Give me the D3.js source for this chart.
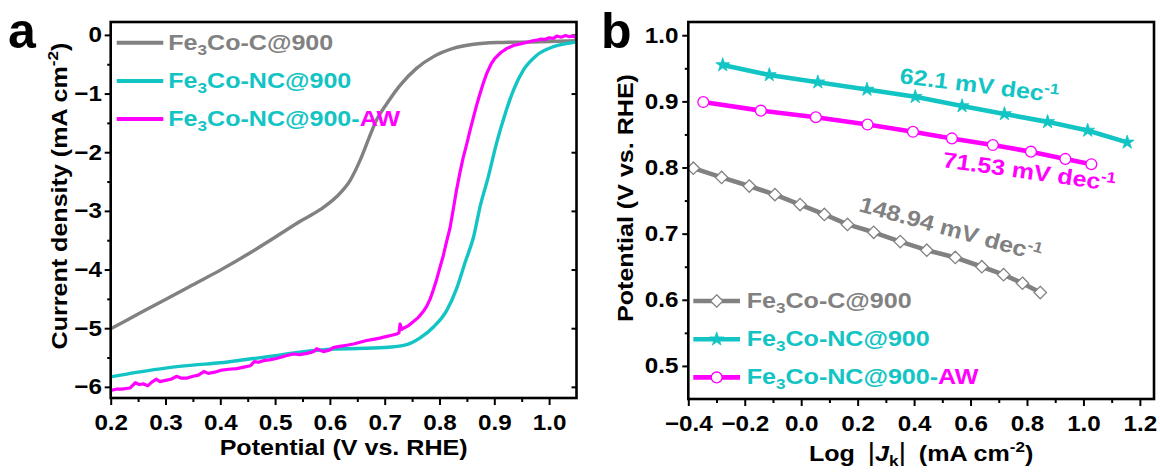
<!DOCTYPE html>
<html>
<head>
<meta charset="utf-8">
<script src="https://cdn.jsdelivr.net/npm/d3@7"></script>
<style>
  html, body { margin: 0; padding: 0; background: #fff; }
  svg { display: block; }
  text { font-family: "Liberation Sans", Arial, sans-serif; font-weight: bold; }
</style>
</head>
<body>
<svg id="chart" width="1160" height="472"></svg>
<script>
// ---------- Panel a: LSV polarization curves ----------
const lsvNames = ["Fe3Co-C@900", "Fe3Co-NC@900", "Fe3Co-NC@900-AW"];

const grayPotential = [0.20, 0.25, 0.30, 0.35, 0.40, 0.45, 0.50, 0.545, 0.582, 0.612, 0.637, 0.655, 0.670, 0.685, 0.704, 0.728, 0.758, 0.789, 0.825, 0.862, 0.904, 0.965, 1.05];
const grayCurrent   = [-5.01, -4.76, -4.51, -4.26, -4.01, -3.74, -3.45, -3.18, -2.98, -2.76, -2.48, -2.14, -1.79, -1.45, -1.17, -0.86, -0.57, -0.37, -0.23, -0.16, -0.13, -0.12, -0.10];

const cyanPotential = [0.20, 0.25, 0.30, 0.35, 0.40, 0.45, 0.50, 0.527, 0.60, 0.70, 0.74, 0.764, 0.789, 0.813, 0.831, 0.847, 0.862, 0.874, 0.889, 0.904, 0.920, 0.935, 0.953, 0.977, 1.008, 1.037, 1.05];
const cyanCurrent   = [-5.83, -5.75, -5.68, -5.63, -5.59, -5.53, -5.47, -5.43, -5.36, -5.33, -5.28, -5.17, -4.98, -4.70, -4.33, -3.87, -3.45, -2.93, -2.42, -1.85, -1.34, -0.94, -0.60, -0.35, -0.20, -0.14, -0.12];

const magentaPotential = [0.200, 0.210, 0.220, 0.235, 0.245, 0.252, 0.260, 0.268, 0.275, 0.283, 0.290, 0.300, 0.310, 0.320, 0.328, 0.340, 0.350, 0.360, 0.370, 0.378, 0.390, 0.400, 0.415, 0.430, 0.445, 0.455, 0.462, 0.470, 0.480, 0.490, 0.500, 0.509, 0.520, 0.533, 0.545, 0.558, 0.570, 0.576, 0.588, 0.600, 0.606, 0.618, 0.631, 0.643, 0.655, 0.667, 0.679, 0.691, 0.704, 0.713, 0.722, 0.726, 0.728, 0.731, 0.734, 0.743, 0.752, 0.761, 0.770, 0.777, 0.783, 0.789, 0.795, 0.801, 0.807, 0.813, 0.819, 0.825, 0.831, 0.837, 0.843, 0.850, 0.856, 0.862, 0.868, 0.874, 0.880, 0.886, 0.894, 0.901, 0.912, 0.923, 0.935, 0.945, 0.953, 0.962, 0.970, 0.978, 0.985, 0.992, 1.000, 1.008, 1.014, 1.022, 1.030, 1.037, 1.044, 1.050];
const magentaCurrent   = [-6.06, -6.04, -6.04, -6.02, -5.93, -5.96, -5.95, -5.98, -5.92, -5.87, -5.91, -5.89, -5.87, -5.82, -5.85, -5.85, -5.82, -5.80, -5.74, -5.77, -5.75, -5.72, -5.70, -5.69, -5.66, -5.64, -5.57, -5.58, -5.55, -5.54, -5.52, -5.50, -5.47, -5.44, -5.45, -5.43, -5.40, -5.35, -5.40, -5.37, -5.33, -5.31, -5.29, -5.27, -5.24, -5.21, -5.19, -5.17, -5.14, -5.12, -5.10, -5.08, -4.93, -5.02, -5.00, -4.96, -4.89, -4.82, -4.72, -4.62, -4.50, -4.34, -4.16, -3.96, -3.76, -3.52, -3.30, -2.98, -2.65, -2.36, -2.10, -1.85, -1.62, -1.40, -1.19, -1.00, -0.82, -0.66, -0.50, -0.40, -0.30, -0.23, -0.18, -0.16, -0.14, -0.12, -0.10, -0.09, -0.07, -0.08, -0.05, -0.06, -0.02, -0.04, -0.01, -0.03, -0.02, -0.05];

const lsvXTicks = [0.2, 0.3, 0.4, 0.5, 0.6, 0.7, 0.8, 0.9, 1.0];
const lsvXMinor = [0.25, 0.35, 0.45, 0.55, 0.65, 0.75, 0.85, 0.95];
const lsvYTicks = [0, -1, -2, -3, -4, -5, -6];
const lsvYMinor = [-0.5, -1.5, -2.5, -3.5, -4.5, -5.5];

// ---------- Panel b: Tafel plots ----------
const tafelGrayLogJ = [-0.382, -0.282, -0.184, -0.093, -0.004, 0.082, 0.164, 0.257, 0.351, 0.445, 0.546, 0.640, 0.717, 0.784, 0.847];
const tafelGrayE    = [0.799, 0.785, 0.772, 0.759, 0.744, 0.729, 0.714, 0.702, 0.688, 0.675, 0.664, 0.650, 0.638, 0.625, 0.611];

const tafelCyanLogJ = [-0.278, -0.113, 0.059, 0.233, 0.404, 0.570, 0.720, 0.873, 1.015, 1.155];
const tafelCyanE    = [0.955, 0.940, 0.929, 0.918, 0.907, 0.893, 0.881, 0.869, 0.856, 0.838];

const tafelMagentaLogJ = [-0.347, -0.143, 0.052, 0.235, 0.396, 0.534, 0.679, 0.814, 0.936, 1.028];
const tafelMagentaE    = [0.899, 0.886, 0.876, 0.865, 0.854, 0.844, 0.834, 0.824, 0.813, 0.805];

const tafelXTicks = [-0.4, -0.2, 0.0, 0.2, 0.4, 0.6, 0.8, 1.0, 1.2];
const tafelXMinor = [-0.3, -0.1, 0.1, 0.3, 0.5, 0.7, 0.9, 1.1];
const tafelYTicks = [0.5, 0.6, 0.7, 0.8, 0.9, 1.0];
const tafelYMinor = [0.55, 0.65, 0.75, 0.85, 0.95];

const slopeTexts = ["62.1 mV dec", "71.53 mV dec", "148.94 mV dec"];

// ---------- styling ----------
const GRAY = "#818181", CYAN = "#13C4C4", MAGENTA = "#FF00FF";
const STRETCH = 1.14;   // wide bold lettering
const TICK_FONT = 22;

const svg = d3.select("#chart");

function zip(xs, ys) { return xs.map((x, i) => [x, ys[i]]); }

// text with sub/superscript parts, stretched along its own direction
function richText(parent, x, y, parts, opt) {
  const o = Object.assign({ anchor: "start", rotate: 0, size: 22, fill: "#000", sx: STRETCH }, opt || {});
  const t = parent.append("text")
    .attr("transform", `translate(${x},${y}) rotate(${o.rotate}) scale(${o.sx},1)`)
    .attr("text-anchor", o.anchor)
    .attr("font-size", o.size)
    .attr("fill", o.fill);
  let shift = 0;
  parts.forEach(p => {
    const target = p.dy || 0;
    const ts = t.append("tspan").text(p.t).attr("dy", target - shift);
    shift = target;
    if (p.size) ts.attr("font-size", p.size);
    if (p.fill) ts.attr("fill", p.fill);
    if (p.style) ts.attr("font-style", p.style);
    if (p.weight) ts.attr("font-weight", p.weight);
  });
  return t;
}

function styleAxis(g) {
  g.select(".domain").remove();
  g.selectAll(".tick line").attr("stroke", "#000").attr("stroke-width", 2);
  g.selectAll(".tick text")
    .attr("font-size", TICK_FONT)
    .attr("fill", "#000")
    .attr("font-family", '"Liberation Sans", Arial, sans-serif')
    .attr("font-weight", "bold")
    .attr("transform", "scale(1.1,1)");
}

function drawFrame(x0, y0, x1, y1) {
  svg.append("rect")
    .attr("x", x0).attr("y", y0)
    .attr("width", x1 - x0).attr("height", y1 - y0)
    .attr("fill", "none").attr("stroke", "#000").attr("stroke-width", 2.6);
}

// ================= Panel a =================
const A = { left: 110.7, right: 576.5, top: 22, bottom: 398 };
const xa = d3.scaleLinear().domain([0.2, 1.05]).range([A.left, A.right]);
const ya = d3.scaleLinear().domain([-6.19, 0.22]).range([A.bottom, A.top]);

svg.append("clipPath").attr("id", "clipA")
  .append("rect").attr("x", A.left).attr("y", A.top)
  .attr("width", A.right - A.left).attr("height", A.bottom - A.top);

// axes
styleAxis(svg.append("g").attr("transform", `translate(0,${A.bottom})`)
  .call(d3.axisBottom(xa).tickValues(lsvXTicks).tickFormat(d3.format(".1f")).tickSize(7).tickPadding(9)));
styleAxis(svg.append("g").attr("transform", `translate(0,${A.bottom})`)
  .call(d3.axisBottom(xa).tickValues(lsvXMinor).tickFormat("").tickSize(4)));
styleAxis(svg.append("g").attr("transform", `translate(${A.left},0)`)
  .call(d3.axisLeft(ya).tickValues(lsvYTicks).tickFormat(d3.format("d")).tickSize(6).tickPadding(2)));
styleAxis(svg.append("g").attr("transform", `translate(${A.left},0)`)
  .call(d3.axisLeft(ya).tickValues(lsvYMinor).tickFormat("").tickSize(3.5)));
styleAxis(svg.append("g").attr("transform", `translate(${A.right},0)`)
  .call(d3.axisRight(ya).tickValues(lsvYTicks).tickFormat("").tickSize(-5)));

// curves
const lineA = d3.line().x(d => xa(d[0])).y(d => ya(d[1]));
const curvesA = svg.append("g").attr("clip-path", "url(#clipA)");
curvesA.append("path").datum(zip(grayPotential, grayCurrent))
  .attr("d", lineA.curve(d3.curveMonotoneX))
  .attr("fill", "none").attr("stroke", GRAY).attr("stroke-width", 3.4).attr("stroke-linejoin", "round");
curvesA.append("path").datum(zip(cyanPotential, cyanCurrent))
  .attr("d", lineA.curve(d3.curveMonotoneX))
  .attr("fill", "none").attr("stroke", CYAN).attr("stroke-width", 3.4).attr("stroke-linejoin", "round");
curvesA.append("path").datum(zip(magentaPotential, magentaCurrent))
  .attr("d", lineA.curve(d3.curveLinear))
  .attr("fill", "none").attr("stroke", MAGENTA).attr("stroke-width", 3.2).attr("stroke-linejoin", "round");

drawFrame(A.left, A.top, A.right, A.bottom);

// legend a
const legA = svg.append("g");
const legAColors = [GRAY, CYAN, MAGENTA];
const legAParts = [
  [{ t: "Fe" }, { t: "3", size: 15, dy: 5 }, { t: "Co-C@900" }],
  [{ t: "Fe" }, { t: "3", size: 15, dy: 5 }, { t: "Co-NC@900" }],
  [{ t: "Fe" }, { t: "3", size: 15, dy: 5 }, { t: "Co-NC@900-" }, { t: "AW", fill: MAGENTA }]
];
const legATextColors = [GRAY, CYAN, CYAN];
lsvNames.forEach((name, i) => {
  const yy = 42.7 + i * 38.2;
  legA.append("line").attr("x1", 116.7).attr("x2", 163.3).attr("y1", yy).attr("y2", yy)
    .attr("stroke", legAColors[i]).attr("stroke-width", 4);
  richText(legA, 168.3, yy + 6.8, legAParts[i], { fill: legATextColors[i] });
});

// titles a
richText(svg, A.left + (A.right - A.left) / 2, 455, [{ t: "Potential (V vs. RHE)" }], { anchor: "middle" });
richText(svg, 66.5, 196, [{ t: "Current density (mA cm" }, { t: "-2", size: 15, dy: -9 }, { t: ")" }],
  { anchor: "middle", rotate: -90 });
svg.append("text").attr("x", 8).attr("y", 48).attr("font-size", 50).text("a");

// ================= Panel b =================
const B = { left: 688.3, right: 1154, top: 22, bottom: 399 };
const xb = d3.scaleLinear().domain([-0.4, 1.25]).range([B.left, B.right]);
const yb = d3.scaleLinear().domain([0.45, 1.02]).range([B.bottom, B.top]);

styleAxis(svg.append("g").attr("transform", `translate(0,${B.bottom})`)
  .call(d3.axisBottom(xb).tickValues(tafelXTicks).tickFormat(d3.format(".1f")).tickSize(7).tickPadding(9)));
styleAxis(svg.append("g").attr("transform", `translate(0,${B.bottom})`)
  .call(d3.axisBottom(xb).tickValues(tafelXMinor).tickFormat("").tickSize(4)));
styleAxis(svg.append("g").attr("transform", `translate(${B.left},0)`)
  .call(d3.axisLeft(yb).tickValues(tafelYTicks).tickFormat(d3.format(".1f")).tickSize(6).tickPadding(3)));
styleAxis(svg.append("g").attr("transform", `translate(${B.left},0)`)
  .call(d3.axisLeft(yb).tickValues(tafelYMinor).tickFormat("").tickSize(3.5)));

const lineB = d3.line().x(d => xb(d[0])).y(d => yb(d[1]));
const diamondPath = "M0,-6.2L6.2,0L0,6.2L-6.2,0Z";
const starPath = d3.symbol(d3.symbolStar, 60)();

function drawMarker(g, x, y, color, marker) {
  if (marker === "diamond") {
    g.append("path").attr("d", diamondPath).attr("transform", `translate(${x},${y})`)
      .attr("fill", "#fff").attr("stroke", color).attr("stroke-width", 1.3);
  } else if (marker === "circle") {
    g.append("circle").attr("cx", x).attr("cy", y).attr("r", 5.4)
      .attr("fill", "#fff").attr("stroke", color).attr("stroke-width", 1.3);
  } else {
    g.append("path").attr("d", starPath).attr("transform", `translate(${x},${y})`)
      .attr("fill", color).attr("stroke", color).attr("stroke-width", 0.8);
  }
}
function tafelSeries(xs, ys, color, marker) {
  const data = zip(xs, ys);
  svg.append("path").datum(data).attr("d", lineB)
    .attr("fill", "none").attr("stroke", color).attr("stroke-width", 4.6).attr("stroke-linejoin", "round");
  const g = svg.append("g");
  data.forEach(d => drawMarker(g, xb(d[0]), yb(d[1]), color, marker));
}
tafelSeries(tafelCyanLogJ, tafelCyanE, CYAN, "star");
tafelSeries(tafelMagentaLogJ, tafelMagentaE, MAGENTA, "circle");
tafelSeries(tafelGrayLogJ, tafelGrayE, GRAY, "diamond");

drawFrame(B.left, B.top, B.right, B.bottom);

// slope labels
richText(svg, 899, 83, [{ t: slopeTexts[0] }, { t: "-1", size: 15, dy: -8 }], { fill: CYAN, rotate: 7 });
richText(svg, 942, 167, [{ t: slopeTexts[1] }, { t: "-1", size: 15, dy: -8 }], { fill: MAGENTA, rotate: 8 });
richText(svg, 858, 211, [{ t: slopeTexts[2] }, { t: "-1", size: 15, dy: -8 }], { fill: GRAY, rotate: 15.5 });

// legend b
const legB = svg.append("g");
const legBColors = [GRAY, CYAN, MAGENTA];
const legBMarkers = ["diamond", "star", "circle"];
lsvNames.forEach((name, i) => {
  const yy = 301 + i * 38.2;
  legB.append("line").attr("x1", 693.3).attr("x2", 740).attr("y1", yy).attr("y2", yy)
    .attr("stroke", legBColors[i]).attr("stroke-width", 4.6);
  drawMarker(legB, 716.7, yy, legBColors[i], legBMarkers[i]);
  richText(legB, 746.7, yy + 7, legAParts[i], { fill: legATextColors[i] });
});

// titles b
richText(svg, B.left + (B.right - B.left) / 2, 461,
  [{ t: "Log\u2002" }, { t: "|", weight: "normal", size: 26 }, { t: "J", style: "italic" }, { t: "k", size: 15, dy: 5 },
   { t: "|", weight: "normal", size: 26 }, { t: "\u2002(mA cm" }, { t: "-2", size: 15, dy: -9 }, { t: ")" }],
  { anchor: "middle" });
richText(svg, 633, 198, [{ t: "Potential (V vs. RHE)" }], { anchor: "middle", rotate: -90 });
svg.append("text").attr("x", 601).attr("y", 48).attr("font-size", 50).text("b");
</script>
</body>
</html>
